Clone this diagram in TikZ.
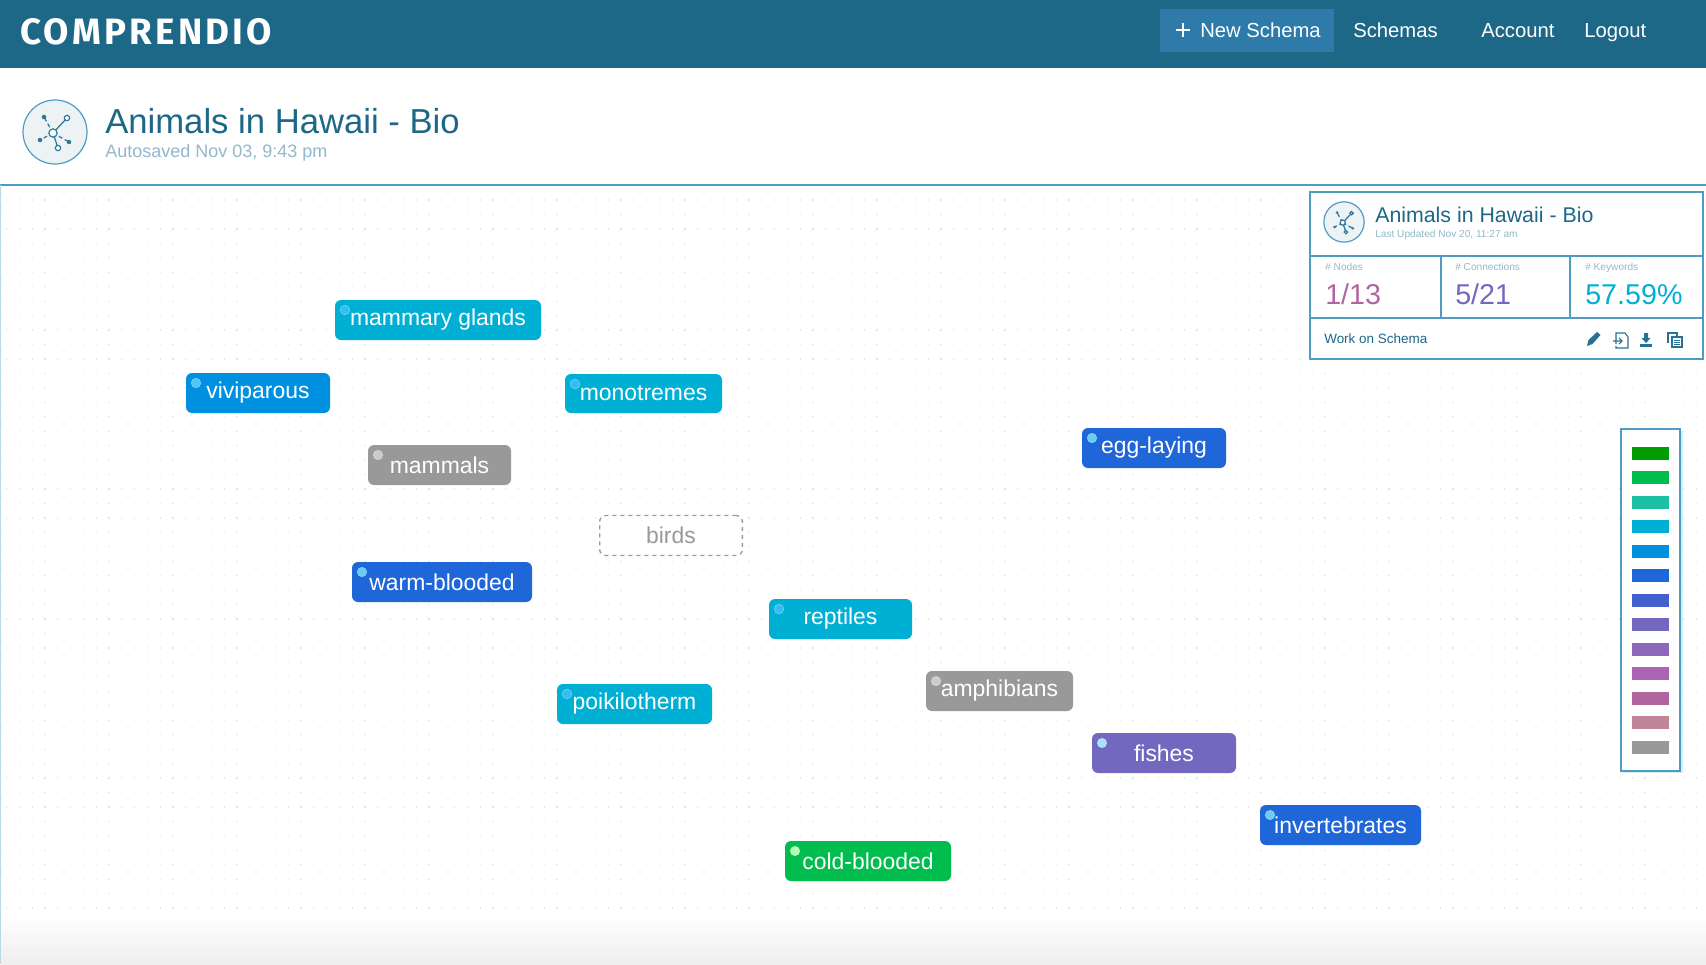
\documentclass[tikz,border=0pt]{standalone}
\usepackage{fontspec}
\setmainfont{Liberation Sans}
\newfontfamily\logofont[LetterSpace=9]{Fira Sans}
\usetikzlibrary{backgrounds}
\definecolor{hdr}{HTML}{1D6787}
\definecolor{btn}{HTML}{2E7BAA}
\definecolor{rulec}{HTML}{4E9CC4}
\definecolor{subc}{HTML}{93B8CC}
\definecolor{cgreenD}{HTML}{009E00}
\definecolor{cgreen}{HTML}{00BD4E}
\definecolor{cteal}{HTML}{1DBFA5}
\definecolor{ccyan}{HTML}{00AFD4}
\definecolor{cblue}{HTML}{0090E0}
\definecolor{cdblue}{HTML}{1F66D8}
\definecolor{cindigo}{HTML}{4360CC}
\definecolor{cpurple}{HTML}{7268C0}
\definecolor{cviolet}{HTML}{8C68BC}
\definecolor{cpink}{HTML}{AA66B2}
\definecolor{cmag}{HTML}{B0659E}
\definecolor{crose}{HTML}{C08598}
\definecolor{cgrey}{HTML}{999999}
\definecolor{dotc}{HTML}{DCE9EA}
\newcommand{\fs}[1]{\fontsize{#1}{#1}\selectfont}
\tikzset{
  x=0.75pt,y=-0.75pt,
  concept/.style={rectangle,rounded corners=4.5pt,inner sep=0pt,text=white,font=\fs{17.2}},
  link/.style={line width=3pt},
  txt/.style={anchor=base west,inner sep=0pt},
  panelline/.style={draw=rulec,line width=0.9pt},
  tiny/.style={txt,text=subc,font=\fs{7.6}},
  swatch/.style={inner sep=0pt,minimum width=27.75pt,minimum height=9.75pt},
}
% name, x1, y1, x2, y2, fill, dot colour, text
\newcommand{\concept}[8]{%
  \node[concept,fill=#6,minimum width={(#4-#2)*0.75pt},minimum height={(#5-#3)*0.75pt}] (#1) at ({(#2+#4)/2},{(#3+#5)/2}) {#8};
  \fill[#7,draw=white,draw opacity=.35,line width=.5pt] (#2+10,#3+10) circle (3.6pt);
}
% logo icon: cx, cy, radius scale
\newcommand{\schemaicon}[3]{%
  \begin{scope}[shift={(#1,#2)},scale=#3]
    \draw[rulec,fill=hdr!8,line width=0.9pt] (0,0) circle (32);
    \draw[hdr!70!rulec,line width=0.9pt] (-2,1) -- (12,-14);
    \draw[hdr!70!rulec,line width=0.9pt] (-2,1) -- (3,16);
    \draw[hdr!70!rulec,line width=0.9pt,densely dashed] (-2,1) -- (-11,-15);
    \draw[hdr!70!rulec,line width=0.9pt,densely dashed] (-2,1) -- (-15,8);
    \draw[hdr!70!rulec,line width=0.9pt,densely dashed] (-2,1) -- (14,10);
    \draw[hdr!70!rulec,fill=white,line width=0.9pt] (-2,1) circle (3.1pt);
    \draw[hdr!70!rulec,fill=white,line width=0.9pt] (12,-14) circle (2pt);
    \draw[hdr!70!rulec,fill=white,line width=0.9pt] (3,16) circle (2pt);
    \fill[hdr!70!rulec] (-11,-15) circle (1.7pt) (-15,8) circle (1.7pt) (14,10) circle (1.7pt);
  \end{scope}
}
\begin{document}
\begin{tikzpicture}
\useasboundingbox (0,0) rectangle (1706,964);
\fill[white] (0,0) rectangle (1706,964);
% canvas dots and bottom fade
\foreach \j in {0,...,52} {
  \draw[dotc,line width=.9pt,dash pattern=on .9pt off 8.7pt] (6,{200+14.45*\j}) -- (1706,{200+14.45*\j});
}
\shade[top color=white,bottom color=black!8,opacity=.8] (1,915) rectangle (1706,964);
% header
\fill[hdr] (0,0) rectangle (1706,68);
\fill[btn] (1160,9) rectangle (1334,52);
\node[txt,text=white,font={\logofont\bfseries\fs{27.5}}] (logo) at (20,44) {COMPRENDIO};
\draw[white,line width=1.7pt] (1176,30) -- (1190,30) (1183,23) -- (1183,37);
\node[txt,text=white,font=\fs{15.2}] (new) at (1200,37) {New Schema};
\node[txt,text=white,font=\fs{15.2}] (sch) at (1353,37) {Schemas};
\node[txt,text=white,font=\fs{15.2}] (acc) at (1481,37) {Account};
\node[txt,text=white,font=\fs{15.2}] (log) at (1584,37) {Logout};
% title block
\schemaicon{55}{132}{1}
\node[txt,text=hdr,font=\fs{26}] (title) at (105,133) {Animals in Hawaii - Bio};
\node[txt,text=subc,font=\fs{13.5}] (saved) at (105,157) {Autosaved Nov 03, 9:43 pm};
\draw[rulec,line width=1pt] (0,185) -- (1706,185);
\draw[rulec!40,line width=1.2pt] (0.5,185) -- (0.5,964);
% concepts
\concept{mg}{335}{300}{541}{340}{ccyan}{cyan!80!white}{mammary glands}
\concept{vi}{186}{373}{330}{413}{cblue}{cyan!70!white}{viviparous}
\concept{mo}{565}{374}{722}{413}{ccyan}{cyan!80!white}{monotremes}
\concept{ma}{368}{445}{511}{485}{cgrey}{black!20}{mammals}
\concept{eg}{1082}{428}{1226}{468}{cdblue}{cyan!60!white}{egg-laying}
\node[rectangle,rounded corners=4.5pt,inner sep=0pt,fill=white,draw=cgrey,dashed,line width=1pt,text=cgrey,font=\fs{17.2},minimum width=107pt,minimum height=30pt] (bi) at (671,535.5) {birds};
\concept{wb}{352}{562}{532}{602}{cdblue}{cyan!60!white}{warm-blooded}
\concept{re}{769}{599}{912}{639}{ccyan}{cyan!80!white}{reptiles}
\concept{po}{557}{684}{712}{724}{ccyan}{cyan!80!white}{poikilotherm}
\concept{am}{926}{671}{1073}{711}{cgrey}{black!20}{amphibians}
\concept{fi}{1092}{733}{1236}{773}{cpurple}{cyan!35!white}{fishes}
\concept{in}{1260}{805}{1421}{845}{cdblue}{cyan!60!white}{invertebrates}
\concept{co}{785}{841}{951}{881}{cgreen}{green!30!white}{cold-blooded}
% connectors
\begin{scope}[on background layer]
\draw[link,cpink] (mg) -- (vi);
\draw[link,cgreen] (mg) -- (ma);
\draw[link,cblue] (mg) -- (mo);
\draw[link,cgreen] (vi) -- (ma);
\draw[link,cteal] (mo) -- (ma);
\draw[link,cteal] (mo) -- (eg);
\draw[link,cgreen] (ma) -- (wb);
\draw[link,ccyan] (wb) -- (bi);
\draw[link,cblue] (wb) -- (po);
\draw[link,cpurple] (bi) -- (eg);
\draw[link,cgrey] (bi) -- (re);
\draw[link,cdblue] (re) -- (eg);
\draw[link,cgreen] (re) -- (co);
\draw[link,cteal] (po) -- (co);
\draw[link,cteal] (am) -- (eg);
\draw[link,cgrey] (am) -- (co);
\draw[link,cblue] (fi) -- (eg);
\draw[link,cpink] (fi) -- (co);
\draw[link,cblue] (in) -- (eg);
\draw[link,cdblue] (in) -- (co);
\end{scope}
% summary panel
\draw[panelline,fill=white] (1310,192) rectangle (1703,359);
\draw[panelline] (1310,256) -- (1703,256) (1310,318) -- (1703,318) (1441,256) -- (1441,318) (1570,256) -- (1570,318);
\schemaicon{1344}{222}{0.63}
\node[txt,text=hdr,font=\fs{16}] (ptitle) at (1375,222) {Animals in Hawaii - Bio};
\node[tiny] (pup) at (1375,237) {Last Updated Nov 20, 11:27 am};
\node[tiny] (pn) at (1325,270) {\# Nodes};
\node[tiny] (pc) at (1455,270) {\# Connections};
\node[tiny] (pk) at (1585,270) {\# Keywords};
\node[txt,text=cmag,font=\fs{21.5}] (vn) at (1325,304) {1/13};
\node[txt,text=cpurple,font=\fs{21.5}] (vc) at (1455,304) {5/21};
\node[txt,text=ccyan,font=\fs{21.5}] (vk) at (1585,304) {57.59\%};
\node[txt,text=hdr,font=\fs{10.1}] (wk) at (1324,343) {Work on Schema};
% panel icons
\begin{scope}[hdr!80!rulec]
\fill (1587,346) -- (1588.5,340) -- (1597,332) -- (1600.5,335) -- (1592.5,344) -- cycle;
\draw[line width=.8pt] (1616,344) -- (1616,333) -- (1625,333) -- (1628,337) -- (1628,348) -- (1616,348) -- (1616,346);
\draw[line width=.8pt] (1613,341) -- (1622,341) (1619,338) -- (1622,341) -- (1619,344);
\fill (1644,333) rectangle (1648,338) (1641.5,338) -- (1650.5,338) -- (1646,343) -- cycle;
\fill (1640,344) rectangle (1652,347);
\draw[line width=.8pt] (1668,343) -- (1668,333) -- (1677,333) -- (1677,337);
\draw[line width=.8pt,fill=white] (1672,337) rectangle (1682,347);
\draw[line width=.5pt] (1674,340) -- (1680,340) (1674,342) -- (1680,342) (1674,344) -- (1680,344);
\end{scope}
% legend
\fill[rulec!20] (1622,431) rectangle (1683,773);
\draw[rulec,line width=1pt,fill=white] (1621,429) rectangle (1680,771);
\foreach \n/\c [count=\k from 0] in {a/cgreenD,b/cgreen,c/cteal,d/ccyan,e/cblue,f/cdblue,g/cindigo,h/cpurple,i/cviolet,j/cpink,k/cmag,l/crose,m/cgrey} {
  \node[swatch,fill=\c] (sw\n) at (1650,453+24.5*\k) {};
}
\end{tikzpicture}
\end{document}
